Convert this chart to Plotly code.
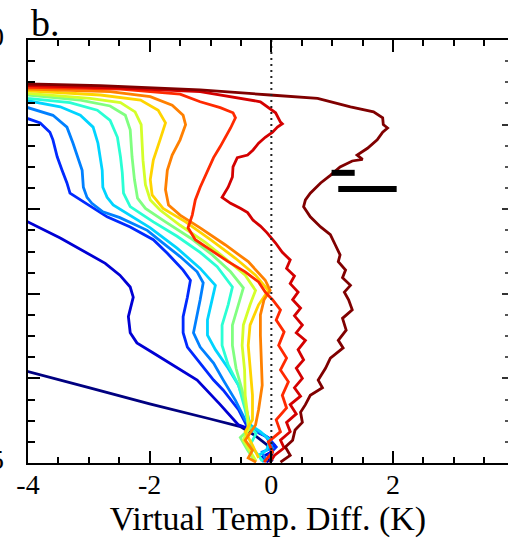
import plotly.graph_objects as go

# ---- data (x: virtual temperature difference in K, y: vertical level, 0 at top) ----
colors = ["#000080", "#0000D4", "#002AFF", "#0080FF", "#00D4FF", "#2AFFD4", "#80FF80",
          "#D4FF2A", "#FFD400", "#FF8000", "#FF2A00", "#D40000", "#800000"]

c0_x = [-4.5, -4.0, -3.0, -2.0, -1.0, -0.51, -0.26, -0.08, 0.02, -0.05]
c0_y = [3.83, 3.92, 4.11, 4.30, 4.48, 4.57, 4.68, 4.78, 4.87, 4.99]

c1_x = [-4.30, -4.0, -3.47, -3.03, -2.73, -2.49, -2.32, -2.27, -2.35, -2.32, -2.21, -1.94, -1.55,
        -1.22, -0.84, -0.54, -0.31, -0.10, 0.05, -0.02, -0.15, -0.05]
c1_y = [2.03, 2.15, 2.34, 2.52, 2.64, 2.78, 2.92, 3.04, 3.27, 3.46, 3.58, 3.70, 3.87,
        4.02, 4.31, 4.55, 4.61, 4.68, 4.79, 4.88, 4.93, 4.99]

c2_x = [-4.21, -4.0, -3.80, -3.64, -3.59, -3.52, -3.44, -3.36, -3.31, -3.14, -2.93, -2.70, -2.32,
        -1.94, -1.71, -1.45, -1.33, -1.38, -1.45, -1.45, -1.38, -1.17, -0.95, -0.79, -0.54, -0.41,
        -0.25, -0.05, 0.08, -0.05, 0.02]
c2_y = [0.86, 0.93, 0.98, 1.09, 1.18, 1.38, 1.54, 1.69, 1.81, 1.89, 1.99, 2.09, 2.21,
        2.36, 2.52, 2.72, 2.84, 3.04, 3.27, 3.46, 3.63, 3.82, 4.02, 4.14, 4.37, 4.55,
        4.62, 4.70, 4.81, 4.91, 4.98]

c3_x = [-4.21, -4.0, -3.59, -3.36, -3.26, -3.19, -3.11, -3.09, -3.03, -2.95, -2.77, -2.49, -2.04,
        -1.78, -1.50, -1.22, -1.12, -1.17, -1.22, -1.28, -1.17, -0.95, -0.79, -0.59, -0.43,
        -0.26, -0.08, 0.02, -0.15, -0.08]
c3_y = [0.76, 0.80, 0.89, 1.03, 1.22, 1.38, 1.54, 1.74, 1.86, 1.93, 2.03, 2.10, 2.25,
        2.40, 2.56, 2.74, 2.87, 3.07, 3.27, 3.46, 3.63, 3.82, 4.02, 4.26, 4.49,
        4.61, 4.69, 4.82, 4.87, 4.98]

c4_x = [-4.21, -4.0, -3.47, -3.14, -2.93, -2.85, -2.81, -2.78, -2.77, -2.70, -2.60, -2.32, -1.99,
        -1.55, -1.17, -0.92, -0.97, -1.05, -1.05, -0.92, -0.71, -0.54, -0.43, -0.35,
        -0.18, -0.02, -0.08, -0.21, -0.12]
c4_y = [0.69, 0.72, 0.79, 0.89, 1.03, 1.22, 1.38, 1.54, 1.74, 1.86, 1.95, 2.07, 2.22,
        2.46, 2.70, 2.90, 3.07, 3.31, 3.49, 3.66, 3.88, 4.08, 4.31, 4.55,
        4.63, 4.73, 4.85, 4.91, 4.99]

c5_x = [-4.21, -4.0, -3.31, -2.86, -2.65, -2.53, -2.48, -2.45, -2.43, -2.32, -1.94, -1.55, -1.17,
        -0.89, -0.64, -0.71, -0.81, -0.81, -0.71, -0.54, -0.43, -0.38, -0.25, -0.35, -0.21, -0.15]
c5_y = [0.65, 0.69, 0.74, 0.83, 0.95, 1.15, 1.38, 1.57, 1.81, 1.97, 2.15, 2.32, 2.51,
        2.68, 2.92, 3.13, 3.37, 3.61, 3.84, 4.08, 4.37, 4.55, 4.65, 4.79, 4.91, 4.98]

c6_x = [-4.21, -4.0, -3.14, -2.65, -2.40, -2.32, -2.29, -2.25, -2.20, -2.07, -1.74, -1.33, -0.97,
        -0.67, -0.46, -0.54, -0.64, -0.64, -0.58, -0.48, -0.41, -0.35, -0.51, -0.39, -0.26]
c6_y = [0.63, 0.65, 0.71, 0.78, 0.89, 1.06, 1.38, 1.65, 1.87, 1.99, 2.15, 2.34, 2.54,
        2.74, 2.93, 3.13, 3.37, 3.61, 3.88, 4.14, 4.37, 4.59, 4.70, 4.85, 4.98]

c7_x = [-4.21, -4.0, -2.98, -2.48, -2.24, -2.14, -2.11, -2.07, -1.99, -1.83, -1.50, -1.09, -0.76,
        -0.43, -0.26, -0.35, -0.46, -0.48, -0.44, -0.43, -0.39, -0.38, -0.46, -0.35, -0.25]
c7_y = [0.60, 0.63, 0.69, 0.74, 0.85, 1.00, 1.42, 1.71, 1.89, 2.01, 2.19, 2.39, 2.58,
        2.78, 2.96, 3.13, 3.37, 3.61, 3.90, 4.20, 4.43, 4.61, 4.73, 4.87, 4.98]

c8_x = [-4.21, -4.0, -2.81, -2.15, -1.86, -1.74, -1.83, -1.94, -1.99, -1.96, -1.78, -1.41, -1.00,
        -0.59, -0.26, -0.05, -0.21, -0.35, -0.38, -0.35, -0.31, -0.31, -0.43, -0.31, -0.21]
c8_y = [0.58, 0.60, 0.65, 0.71, 0.83, 0.98, 1.18, 1.42, 1.65, 1.83, 1.99, 2.15, 2.36,
        2.58, 2.78, 2.96, 3.13, 3.37, 3.61, 3.90, 4.20, 4.49, 4.63, 4.79, 4.94]

c9_x = [-4.21, -4.0, -2.65, -1.99, -1.63, -1.45, -1.41, -1.50, -1.63, -1.71, -1.74, -1.69, -1.50,
        -1.17, -0.76, -0.38, -0.10, -0.02, -0.12, -0.18, -0.18, -0.16, -0.15, -0.21, -0.26,
        -0.43, -0.31, -0.38, -0.25]
c9_y = [0.57, 0.58, 0.61, 0.67, 0.77, 0.89, 1.00, 1.18, 1.36, 1.54, 1.77, 1.95, 2.07,
        2.22, 2.42, 2.62, 2.84, 2.96, 3.07, 3.25, 3.49, 3.78, 4.08, 4.37, 4.55,
        4.73, 4.85, 4.94, 4.99]

c10_x = [-4.29, -4.0, -2.48, -1.50, -1.17, -0.84, -0.63, -0.59, -0.67, -0.76, -0.84, -0.95, -1.05,
         -1.17, -1.25, -1.30, -1.37, -1.25, -1.00, -0.71, -0.43, -0.21, -0.10, 0.02, 0.15, 0.08,
         0.21, 0.12, 0.25, 0.15, 0.28, 0.18, 0.25, 0.08, 0.15, -0.05, 0.02, -0.12]
c10_y = [0.54, 0.56, 0.58, 0.64, 0.73, 0.80, 0.86, 0.92, 1.04, 1.16, 1.26, 1.39, 1.54,
         1.74, 1.89, 2.07, 2.22, 2.36, 2.48, 2.62, 2.74, 2.86, 2.98, 3.07, 3.19, 3.31,
         3.45, 3.61, 3.76, 3.90, 4.04, 4.20, 4.35, 4.49, 4.63, 4.75, 4.87, 4.99]

c11_x = [-4.29, -4.0, -2.48, -1.17, -0.18, -0.07, 0.02, 0.07, 0.15, 0.18, 0.10, 0.02, -0.10, -0.21,
         -0.30, -0.39, -0.56, -0.63, -0.64, -0.71, -0.81, -0.67, -0.51, -0.39, -0.30, -0.18, -0.07,
         0.07, 0.18, 0.31, 0.25, 0.38, 0.31, 0.44, 0.35, 0.48, 0.38, 0.51, 0.41, 0.56, 0.44, 0.53,
         0.41, 0.51, 0.38, 0.48, 0.31, 0.41, 0.25, 0.31, 0.15, 0.21, 0.05, -0.02]
c11_y = [0.53, 0.54, 0.57, 0.61, 0.73, 0.79, 0.83, 0.86, 0.97, 0.99, 1.03, 1.09, 1.15, 1.22,
         1.30, 1.36, 1.39, 1.50, 1.62, 1.74, 1.86, 1.93, 1.99, 2.04, 2.13, 2.20, 2.28,
         2.40, 2.51, 2.60, 2.70, 2.79, 2.88, 2.98, 3.07, 3.17, 3.26, 3.37, 3.46, 3.55, 3.66, 3.78,
         3.88, 4.00, 4.11, 4.21, 4.31, 4.42, 4.52, 4.63, 4.73, 4.82, 4.91, 4.99]

c12_x = [-4.29, -4.0, -2.81, -1.17, -0.02, 0.76, 1.30, 1.68, 1.83, 1.84, 1.91, 1.83, 1.74, 1.58,
         1.41, 1.50, 1.33, 1.13, 0.97, 0.81, 0.64, 0.56, 0.53, 0.58, 0.64, 0.81, 0.97, 1.05, 1.13,
         1.10, 1.22, 1.17, 1.30, 1.20, 1.27, 1.33, 1.17, 1.23, 1.10, 1.18, 0.97, 0.89, 0.77, 0.84,
         0.64, 0.56, 0.48, 0.51, 0.39, 0.35, 0.23, 0.31, 0.15]
c12_y = [0.51, 0.52, 0.54, 0.59, 0.65, 0.69, 0.79, 0.85, 0.92, 1.00, 1.04, 1.09, 1.18, 1.28,
         1.36, 1.41, 1.43, 1.50, 1.60, 1.69, 1.81, 1.89, 1.97, 2.03, 2.09, 2.21, 2.30, 2.42, 2.54,
         2.62, 2.72, 2.81, 2.90, 2.98, 3.07, 3.19, 3.29, 3.43, 3.55, 3.64, 3.76, 3.88, 4.02, 4.11,
         4.20, 4.31, 4.40, 4.52, 4.61, 4.73, 4.81, 4.91, 4.99]

curves_x = [c0_x, c1_x, c2_x, c3_x, c4_x, c5_x, c6_x, c7_x, c8_x, c9_x, c10_x, c11_x, c12_x]
curves_y = [c0_y, c1_y, c2_y, c3_y, c4_y, c5_y, c6_y, c7_y, c8_y, c9_y, c10_y, c11_y, c12_y]

# black bars drawn in the panel
bar_x0 = [0.99, 1.10]
bar_x1 = [1.37, 2.06]
bar_y = [1.57, 1.76]

x_tickvals = [-4, -2, 0, 2, 4]
x_ticktext = ["-4", "-2", "0", "2", "4"]
y_labels = {0: "0", 5: "5"}

FONT = "Liberation Serif"

fig = go.Figure()
for xs, ys, col in zip(curves_x, curves_y, colors):
    fig.add_trace(go.Scatter(x=xs, y=ys, mode="lines", line=dict(color=col, width=2.8),
                             showlegend=False, hoverinfo="skip"))

# zero reference line
fig.add_trace(go.Scatter(x=[0, 0], y=[0, 5], mode="lines",
                         line=dict(color="#222222", width=2, dash="2px,4px"),
                         showlegend=False, hoverinfo="skip"))

for x0, x1, yb in zip(bar_x0, bar_x1, bar_y):
    fig.add_trace(go.Scatter(x=[x0, x1], y=[yb, yb], mode="lines",
                             line=dict(color="black", width=6),
                             showlegend=False, hoverinfo="skip"))

# dummy trace for right-side ticks axis
fig.add_trace(go.Scatter(x=[None], y=[None], yaxis="y2", showlegend=False, hoverinfo="skip"))

fig.update_layout(
    width=508, height=538,
    margin=dict(l=28, r=0, t=40, b=75),
    paper_bgcolor="white", plot_bgcolor="white",
    font=dict(family=FONT, color="black"),
    xaxis=dict(range=[-4, 3.89], tickvals=x_tickvals, ticktext=x_ticktext,
               ticks="inside", ticklen=12, tickwidth=2, tickcolor="black",
               showline=True, linewidth=2, linecolor="black", mirror="ticks",
               showgrid=False, zeroline=False,
               minor=dict(dtick=0.5, tick0=0, ticks="inside", ticklen=6, tickwidth=2, tickcolor="black"),
               tickfont=dict(family=FONT, size=28, color="black"),
               ticklabelstandoff=-5,
               title=dict(text="Virtual Temp. Diff. (K)", font=dict(family=FONT, size=34, color="black"),
                          standoff=4)),
    yaxis=dict(range=[5, 0], tickvals=[0, 1, 2, 3, 4, 5], showticklabels=False,
               ticks="inside", ticklen=12, tickwidth=2, tickcolor="black",
               showline=True, linewidth=2, linecolor="black", mirror=False,
               showgrid=False, zeroline=False,
               minor=dict(dtick=0.25, tick0=0, ticks="inside", ticklen=7, tickwidth=2, tickcolor="black")),
    yaxis2=dict(range=[5, 0], overlaying="y", side="right", tickvals=[0, 1, 2, 3, 4, 5],
                showticklabels=False, ticks="inside", ticklen=6, tickwidth=2, tickcolor="#333333",
                showline=False, showgrid=False, zeroline=False,
                minor=dict(dtick=0.25, tick0=0, ticks="inside", ticklen=3, tickwidth=2, tickcolor="#555555")),
)

for yv, txt in y_labels.items():
    fig.add_annotation(x=-0.0458, y=yv, xref="paper", yref="y", text=txt, showarrow=False,
                       xanchor="right", yanchor="middle", yshift=4,
                       font=dict(family=FONT, size=28, color="black"))

fig.add_annotation(x=0.002, y=1, xref="paper", yref="paper", text="b.", showarrow=False,
                   xanchor="left", yanchor="bottom", yshift=-6,
                   font=dict(family=FONT, size=38, color="black"))

fig.write_html("out.html")
